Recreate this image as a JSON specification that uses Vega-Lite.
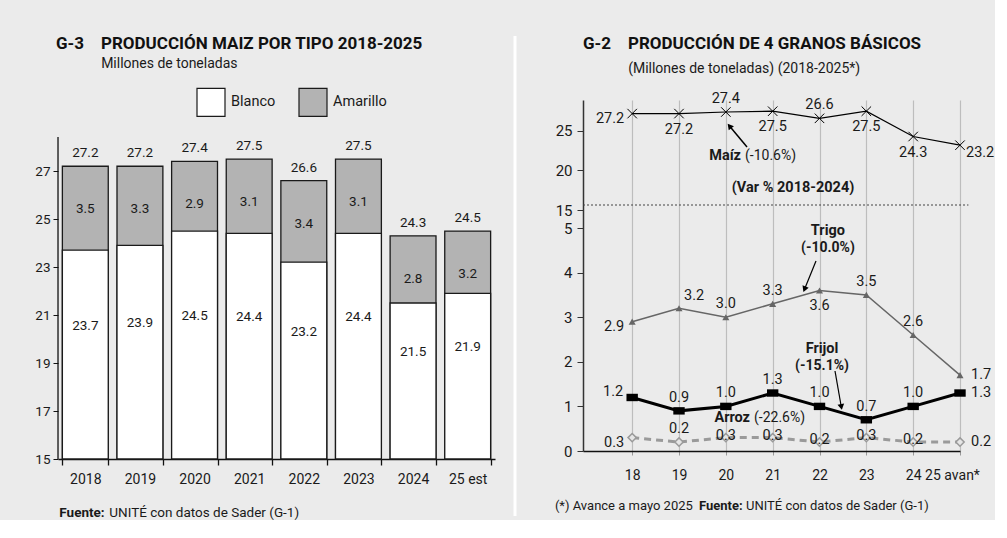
{
  "$schema": "https://vega.github.io/schema/vega-lite/v6.json",
  "background": "#ebebeb",
  "padding": {"left": 34, "top": 34, "right": 0, "bottom": 0},
  "spacing": 10,
  "config": {
    "font": "Roboto",
    "view": {"stroke": null},
    "text": {"color": "#1a1a1a", "font": "Roboto"},
    "axis": {"labelFont": "Roboto", "labelColor": "#1a1a1a"},
    "legend": {"labelFont": "Roboto"},
    "title": {"font": "Roboto", "subtitleFont": "Roboto"}
  },
  "datasets": {
    "maiz": [
      {"anio": "2018", "blanco": 23.7, "amarillo": 3.5, "total": 27.2},
      {"anio": "2019", "blanco": 23.9, "amarillo": 3.3, "total": 27.2},
      {"anio": "2020", "blanco": 24.5, "amarillo": 2.9, "total": 27.4},
      {"anio": "2021", "blanco": 24.4, "amarillo": 3.1, "total": 27.5},
      {"anio": "2022", "blanco": 23.2, "amarillo": 3.4, "total": 26.6},
      {"anio": "2023", "blanco": 24.4, "amarillo": 3.1, "total": 27.5},
      {"anio": "2024", "blanco": 21.5, "amarillo": 2.8, "total": 24.3},
      {"anio": "25 est", "blanco": 21.9, "amarillo": 3.2, "total": 24.5}
    ],
    "granos": [
      {"anio": 18, "serie": "Maíz", "valor": 27.2},
      {"anio": 19, "serie": "Maíz", "valor": 27.2},
      {"anio": 20, "serie": "Maíz", "valor": 27.4},
      {"anio": 21, "serie": "Maíz", "valor": 27.5},
      {"anio": 22, "serie": "Maíz", "valor": 26.6},
      {"anio": 23, "serie": "Maíz", "valor": 27.5},
      {"anio": 24, "serie": "Maíz", "valor": 24.3},
      {"anio": 25, "serie": "Maíz", "valor": 23.2},
      {"anio": 18, "serie": "Trigo", "valor": 2.9},
      {"anio": 19, "serie": "Trigo", "valor": 3.2},
      {"anio": 20, "serie": "Trigo", "valor": 3.0},
      {"anio": 21, "serie": "Trigo", "valor": 3.3},
      {"anio": 22, "serie": "Trigo", "valor": 3.6},
      {"anio": 23, "serie": "Trigo", "valor": 3.5},
      {"anio": 24, "serie": "Trigo", "valor": 2.6},
      {"anio": 25, "serie": "Trigo", "valor": 1.7},
      {"anio": 18, "serie": "Frijol", "valor": 1.2},
      {"anio": 19, "serie": "Frijol", "valor": 0.9},
      {"anio": 20, "serie": "Frijol", "valor": 1.0},
      {"anio": 21, "serie": "Frijol", "valor": 1.3},
      {"anio": 22, "serie": "Frijol", "valor": 1.0},
      {"anio": 23, "serie": "Frijol", "valor": 0.7},
      {"anio": 24, "serie": "Frijol", "valor": 1.0},
      {"anio": 25, "serie": "Frijol", "valor": 1.3},
      {"anio": 18, "serie": "Arroz", "valor": 0.3},
      {"anio": 19, "serie": "Arroz", "valor": 0.2},
      {"anio": 20, "serie": "Arroz", "valor": 0.3},
      {"anio": 21, "serie": "Arroz", "valor": 0.3},
      {"anio": 22, "serie": "Arroz", "valor": 0.2},
      {"anio": 23, "serie": "Arroz", "valor": 0.3},
      {"anio": 24, "serie": "Arroz", "valor": 0.2},
      {"anio": 25, "serie": "Arroz", "valor": 0.2}
    ]
  },
  "hconcat": [
    {
      "width": 437,
      "height": 359,
      "data": {"name": "maiz"},
      "title": {
        "text": "G-3\u00a0\u00a0\u00a0\u00a0PRODUCCIÓN MAIZ POR TIPO 2018-2025",
        "subtitle": "\u200b\u00a0\u00a0\u00a0\u00a0\u00a0\u00a0\u00a0\u00a0\u00a0\u00a0\u00a0\u00a0\u00a0Millones de toneladas",
        "anchor": "start", "frame": "group", "dx": -2,
        "fontSize": 17, "fontWeight": "bold", "color": "#111111",
        "subtitleFontSize": 14, "subtitleColor": "#1a1a1a", "subtitlePadding": 4, "offset": 28
      },
      "resolve": {"scale": {"y": "independent"}},
      "encoding": {
        "x": {
          "field": "anio", "type": "nominal", "sort": null,
          "scale": {"paddingInner": 0.16, "paddingOuter": 0.08},
          "axis": {"title": null, "labelAngle": 0, "tickBand": "extent", "labelFontSize": 14, "labelPadding": 7, "tickSize": 6, "tickColor": "#111111", "tickWidth": 1.3, "domainColor": "#111111", "domainWidth": 1.5}
        }
      },
      "layer": [
        {
          "layer": [
            {
              "mark": {"type": "bar", "stroke": "#1a1a1a", "strokeWidth": 1.3},
              "encoding": {
                "y": {
                  "field": "total", "type": "quantitative",
                  "scale": {"domain": [15, 29.96], "nice": false, "zero": false},
                  "axis": {"values": [15, 17, 19, 21, 23, 25, 27], "domain": false, "title": null, "grid": false, "tickSize": 5, "tickColor": "#111111", "labelFontSize": 13.5, "labelPadding": 3}
                },
                "y2": {"datum": 15},
                "fill": {
                  "datum": "Amarillo", "type": "nominal",
                  "scale": {"domain": ["Blanco", "Amarillo"], "range": ["#ffffff", "#b3b3b3"]},
                  "legend": {"orient": "none", "legendX": 138, "legendY": -13, "direction": "horizontal", "title": null, "symbolType": "square", "symbolSize": 784, "symbolStrokeColor": "#333333", "symbolStrokeWidth": 1.2, "symbolOpacity": 1, "labelFontSize": 14.5, "labelOffset": 5, "columnPadding": 20, "padding": 0, "labelColor": "#1a1a1a"}
                }
              }
            },
            {
              "mark": {"type": "bar", "stroke": "#1a1a1a", "strokeWidth": 1.3},
              "encoding": {
                "y": {"field": "blanco", "type": "quantitative", "scale": {"domain": [15, 29.96], "nice": false, "zero": false}},
                "y2": {"datum": 15},
                "fill": {"datum": "Blanco", "type": "nominal"}
              }
            },
            {
              "data": {"values": [{}]},
              "mark": {"type": "rule", "color": "#111111", "strokeWidth": 1.3, "xOffset": -27.3},
              "encoding": {"x": {"datum": "2018"}, "y": {"datum": 15}, "y2": {"datum": 28.42}}
            },
            {
              "mark": {"type": "text", "fontSize": 13.5, "dy": 43},
              "encoding": {
                "y": {"field": "total", "type": "quantitative"},
                "text": {"field": "amarillo", "type": "quantitative", "format": ".1f"}
              }
            },
            {
              "mark": {"type": "text", "fontSize": 13.5, "dy": -13},
              "encoding": {
                "y": {"field": "total", "type": "quantitative"},
                "text": {"field": "total", "type": "quantitative", "format": ".1f"}
              }
            },
            {
              "data": {"values": [{}]},
              "mark": {"type": "text", "text": "Fuente:", "fontWeight": "bold", "fontSize": 13.5, "align": "left", "dx": -26},
              "encoding": {"x": {"datum": "2018"}, "y": {"datum": 12.75}}
            },
            {
              "data": {"values": [{}]},
              "mark": {"type": "text", "text": "UNITÉ con datos de Sader (G-1)", "fontSize": 13.5, "align": "left", "dx": 24},
              "encoding": {"x": {"datum": "2018"}, "y": {"datum": 12.75}}
            }
          ]
        },
        {
          "mark": {"type": "text", "fontSize": 13.5},
          "encoding": {
            "y": {"field": "blanco", "type": "quantitative", "scale": {"domain": [12.6, 42.517], "nice": false, "zero": false}, "axis": null},
            "text": {"field": "blanco", "type": "quantitative", "format": ".1f"}
          }
        }
      ]
    },
    {
      "width": 39,
      "height": 351,
      "data": {"values": [{}]},
      "mark": {"type": "rule", "color": "#ffffff", "strokeWidth": 3},
      "encoding": {
        "x": {"datum": 0.2564, "type": "quantitative", "scale": {"domain": [0, 1], "nice": false, "zero": false}, "axis": null},
        "y": {"datum": 1.1823, "type": "quantitative", "scale": {"domain": [0, 1], "nice": false, "zero": false}, "axis": null},
        "y2": {"datum": -0.1852}
      }
    },
    {
      "width": 377,
      "height": 351,
      "data": {"name": "granos"},
      "title": {
        "text": "G-2\u00a0\u00a0\u00a0\u00a0PRODUCCIÓN DE 4 GRANOS BÁSICOS",
        "subtitle": "\u200b\u00a0\u00a0\u00a0\u00a0\u00a0\u00a0\u00a0\u00a0\u00a0\u00a0\u00a0\u00a0\u00a0(Millones de toneladas) (2018-2025*)",
        "anchor": "start", "frame": "group", "dx": 0,
        "fontSize": 17, "fontWeight": "bold", "color": "#111111",
        "subtitleFontSize": 14, "subtitleColor": "#1a1a1a", "subtitlePadding": 9, "offset": 14
      },
      "encoding": {
        "x": {
          "field": "anio", "type": "quantitative",
          "scale": {"domain": [16.95, 25], "nice": false, "zero": false},
          "axis": {"values": [18, 19, 20, 21, 22, 23, 24, 25], "labelExpr": "datum.value == 25 ? '25 avan*' : datum.label", "title": null, "grid": true, "gridColor": "#bdbdbd", "gridWidth": 1.2, "tickSize": 4, "tickColor": "#999999", "domainColor": "#111111", "domainWidth": 1.5, "labelFontSize": 14, "labelPadding": 13, "labelFlush": false, "labelOverlap": false, "labelOffset": {"condition": {"test": "datum.value == 25", "value": -8}, "value": 0}}
        },
        "y": {
          "field": "valor", "type": "quantitative",
          "scale": {"domain": [0, 5, 15, 28.92], "range": [351, 128, 110, 0], "nice": false, "zero": false},
          "axis": {"values": [0, 1, 2, 3, 4, 5, 15, 20, 25], "title": null, "grid": false, "tickSize": 6, "tickColor": "#333333", "domainColor": "#333333", "domainWidth": 1.5, "labelFontSize": 15, "labelPadding": 5, "labelOverlap": false}
        }
      },
      "layer": [
        {
          "transform": [{"filter": "datum.serie == 'Maíz' && datum.anio == 18"}],
          "mark": {"type": "rule", "color": "#444444", "strokeDash": [2, 2], "strokeWidth": 1.2},
          "encoding": {"x": {"datum": 16.95}, "x2": {"datum": 25.18}, "y": {"datum": 15.63}}
        },
        {"transform": [{"filter": "datum.serie == 'Arroz'"}], "mark": {"type": "line", "color": "#9a9a9a", "strokeWidth": 3, "strokeDash": [7, 5]}, "encoding": {}},
        {"transform": [{"filter": "datum.serie == 'Trigo'"}], "mark": {"type": "line", "color": "#666666", "strokeWidth": 1.5}, "encoding": {}},
        {"transform": [{"filter": "datum.serie == 'Frijol'"}], "mark": {"type": "line", "color": "#000000", "strokeWidth": 3}, "encoding": {}},
        {"transform": [{"filter": "datum.serie == 'Maíz'"}], "mark": {"type": "line", "color": "#000000", "strokeWidth": 1.2}, "encoding": {}},
        {"transform": [{"filter": "datum.serie == 'Maíz'"}], "mark": {"type": "point", "shape": "M-1,-1L1,1M-1,1L1,-1", "size": 90, "stroke": "#000000", "strokeWidth": 1, "filled": false, "opacity": 1}},
        {"transform": [{"filter": "datum.serie == 'Trigo'"}], "mark": {"type": "point", "shape": "triangle-up", "size": 50, "filled": true, "color": "#666666", "opacity": 1}},
        {"transform": [{"filter": "datum.serie == 'Frijol'"}], "mark": {"type": "point", "shape": "M-1,-0.65L1,-0.65L1,0.65L-1,0.65Z", "size": 130, "filled": true, "color": "#000000", "opacity": 1}},
        {"transform": [{"filter": "datum.serie == 'Arroz'"}], "mark": {"type": "point", "shape": "diamond", "size": 70, "fill": "#e6e6e6", "stroke": "#9a9a9a", "strokeWidth": 1.5, "opacity": 1}},
        {
          "transform": [{"filter": "(datum.serie == 'Maíz' && (datum.anio == 20 || datum.anio == 22)) || (datum.serie == 'Trigo' && indexof([20, 21, 23, 24], datum.anio) >= 0) || (datum.serie == 'Frijol' && datum.anio >= 19 && datum.anio <= 24) || (datum.serie == 'Arroz' && datum.anio == 19)"}],
          "mark": {"type": "text", "fontSize": 14.5, "dy": -13},
          "encoding": {"text": {"field": "valor", "type": "quantitative", "format": ".1f"}}
        },
        {
          "transform": [{"filter": "(datum.serie == 'Maíz' && indexof([19, 21, 23, 24], datum.anio) >= 0) || (datum.serie == 'Trigo' && datum.anio == 22)"}],
          "mark": {"type": "text", "fontSize": 14.5, "dy": 16},
          "encoding": {"text": {"field": "valor", "type": "quantitative", "format": ".1f"}}
        },
        {
          "transform": [{"filter": "datum.anio == 18 && datum.serie != 'Frijol'"}],
          "mark": {"type": "text", "fontSize": 14.5, "align": "right", "dx": -8, "dy": 5},
          "encoding": {"text": {"field": "valor", "type": "quantitative", "format": ".1f"}}
        },
        {
          "transform": [{"filter": "datum.anio == 18 && datum.serie == 'Frijol'"}],
          "mark": {"type": "text", "fontSize": 14.5, "align": "right", "dx": -9, "dy": -5},
          "encoding": {"text": {"field": "valor", "type": "quantitative", "format": ".1f"}}
        },
        {
          "transform": [{"filter": "datum.anio == 25 && datum.serie == 'Maíz'"}],
          "mark": {"type": "text", "fontSize": 14.5, "align": "left", "dx": 6, "dy": 8},
          "encoding": {"text": {"field": "valor", "type": "quantitative", "format": ".1f"}}
        },
        {
          "transform": [{"filter": "datum.anio == 19 && datum.serie == 'Trigo'"}],
          "mark": {"type": "text", "fontSize": 14.5, "align": "left", "dx": 5, "dy": -12},
          "encoding": {"text": {"field": "valor", "type": "quantitative", "format": ".1f"}}
        },
        {
          "transform": [{"filter": "datum.anio == 25 && datum.serie != 'Maíz'"}],
          "mark": {"type": "text", "fontSize": 14.5, "align": "left", "dx": 11, "dy": 0},
          "encoding": {"text": {"field": "valor", "type": "quantitative", "format": ".1f"}}
        },
        {
          "transform": [{"filter": "datum.serie == 'Arroz' && datum.anio >= 20 && datum.anio <= 24"}],
          "mark": {"type": "text", "fontSize": 14.5, "dy": -2},
          "encoding": {"text": {"field": "valor", "type": "quantitative", "format": ".1f"}}
        },
        {"transform": [{"filter": "datum.serie == 'Maíz' && datum.anio == 18"}], "mark": {"type": "text", "text": "Maíz", "fontWeight": "bold", "fontSize": 14.5, "align": "right", "dx": -1}, "encoding": {"x": {"datum": 20.345}, "y": {"datum": 21.83}}},
        {"transform": [{"filter": "datum.serie == 'Maíz' && datum.anio == 18"}], "mark": {"type": "text", "text": "(-10.6%)", "fontSize": 14, "align": "left", "dx": 3}, "encoding": {"x": {"datum": 20.345}, "y": {"datum": 21.83}}},
        {"transform": [{"filter": "datum.serie == 'Maíz' && datum.anio == 18"}], "mark": {"type": "text", "text": "(Var % 2018-2024)", "fontWeight": "bold", "fontSize": 14.5}, "encoding": {"x": {"datum": 21.434}, "y": {"datum": 17.78}}},
        {"transform": [{"filter": "datum.serie == 'Maíz' && datum.anio == 18"}], "mark": {"type": "text", "text": "Trigo", "fontWeight": "bold", "fontSize": 14.5}, "encoding": {"x": {"datum": 22.18}, "y": {"datum": 4.93}}},
        {"transform": [{"filter": "datum.serie == 'Maíz' && datum.anio == 18"}], "mark": {"type": "text", "text": "(-10.0%)", "fontWeight": "bold", "fontSize": 14}, "encoding": {"x": {"datum": 22.18}, "y": {"datum": 4.55}}},
        {"transform": [{"filter": "datum.serie == 'Maíz' && datum.anio == 18"}], "mark": {"type": "text", "text": "Frijol", "fontWeight": "bold", "fontSize": 14.5}, "encoding": {"x": {"datum": 22.054}, "y": {"datum": 2.287}}},
        {"transform": [{"filter": "datum.serie == 'Maíz' && datum.anio == 18"}], "mark": {"type": "text", "text": "(-15.1%)", "fontWeight": "bold", "fontSize": 14}, "encoding": {"x": {"datum": 22.054}, "y": {"datum": 1.906}}},
        {"transform": [{"filter": "datum.serie == 'Maíz' && datum.anio == 18"}], "mark": {"type": "text", "text": "Arroz", "fontWeight": "bold", "fontSize": 14.5, "align": "right", "dx": -1}, "encoding": {"x": {"datum": 20.537}, "y": {"datum": 0.75}}},
        {"transform": [{"filter": "datum.serie == 'Maíz' && datum.anio == 18"}], "mark": {"type": "text", "text": "(-22.6%)", "fontSize": 14, "align": "left", "dx": 3}, "encoding": {"x": {"datum": 20.537}, "y": {"datum": 0.75}}},
        {"transform": [{"filter": "datum.serie == 'Maíz' && datum.anio == 18"}], "mark": {"type": "rule", "color": "#000000", "strokeWidth": 1.5}, "encoding": {"x": {"datum": 20.452}, "y": {"datum": 22.97}, "x2": {"datum": 20.078}, "y2": {"datum": 25.63}}},
        {"transform": [{"filter": "datum.serie == 'Maíz' && datum.anio == 18"}], "mark": {"type": "point", "shape": "triangle-up", "size": 45, "filled": true, "color": "#000000", "opacity": 1, "angle": 321}, "encoding": {"x": {"datum": 20.078}, "y": {"datum": 25.63}}},
        {"transform": [{"filter": "datum.serie == 'Maíz' && datum.anio == 18"}], "mark": {"type": "rule", "color": "#000000", "strokeWidth": 1.2}, "encoding": {"x": {"datum": 21.925}, "y": {"datum": 4.26}, "x2": {"datum": 21.68}, "y2": {"datum": 3.626}}},
        {"transform": [{"filter": "datum.serie == 'Maíz' && datum.anio == 18"}], "mark": {"type": "point", "shape": "triangle-up", "size": 45, "filled": true, "color": "#000000", "opacity": 1, "angle": 202}, "encoding": {"x": {"datum": 21.68}, "y": {"datum": 3.626}}},
        {"transform": [{"filter": "datum.serie == 'Maíz' && datum.anio == 18"}], "mark": {"type": "rule", "color": "#000000", "strokeWidth": 1.2}, "encoding": {"x": {"datum": 22.331}, "y": {"datum": 1.794}, "x2": {"datum": 22.466}, "y2": {"datum": 0.987}}},
        {"transform": [{"filter": "datum.serie == 'Maíz' && datum.anio == 18"}], "mark": {"type": "point", "shape": "triangle-up", "size": 45, "filled": true, "color": "#000000", "opacity": 1, "angle": 170}, "encoding": {"x": {"datum": 22.466}, "y": {"datum": 0.987}}},
        {"transform": [{"filter": "datum.serie == 'Maíz' && datum.anio == 18"}], "mark": {"type": "text", "text": "(*) Avance a mayo 2025", "fontSize": 13, "align": "left"}, "encoding": {"x": {"datum": 16.35}, "y": {"datum": -1.233}}},
        {"transform": [{"filter": "datum.serie == 'Maíz' && datum.anio == 18"}], "mark": {"type": "text", "text": "Fuente:", "fontWeight": "bold", "fontSize": 13, "align": "left"}, "encoding": {"x": {"datum": 19.427}, "y": {"datum": -1.233}}},
        {"transform": [{"filter": "datum.serie == 'Maíz' && datum.anio == 18"}], "mark": {"type": "text", "text": "UNITÉ con datos de Sader (G-1)", "fontSize": 13, "align": "left"}, "encoding": {"x": {"datum": 20.43}, "y": {"datum": -1.233}}}
      ]
    }
  ]
}
